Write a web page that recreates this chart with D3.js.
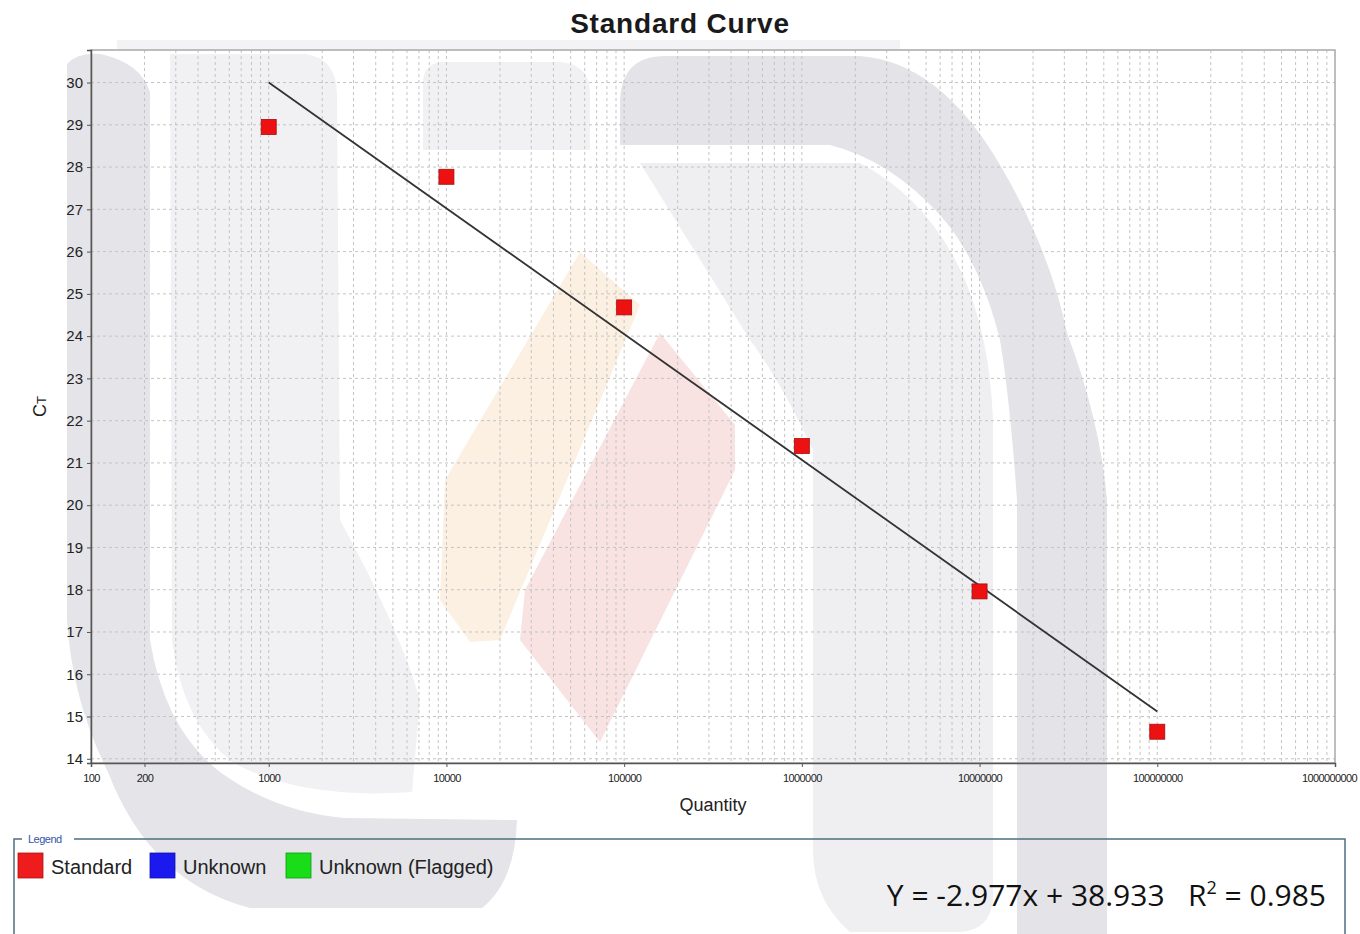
<!DOCTYPE html>
<html>
<head>
<meta charset="utf-8">
<script src="https://cdn.jsdelivr.net/npm/d3@7"></script>
<style>
  body { margin: 0; background: #fff; }
  svg { display: block; }
</style>
</head>
<body>
<script>
// standard curve data
const quantities = [1000, 10000, 100000, 1000000, 10000000, 100000000];
const ctValues = [28.95, 27.77, 24.68, 21.40, 17.96, 14.64];
const slope = -2.977;
const intercept = 38.933;
const rSquared = 0.985;

const xTickValues = [100, 200, 1000, 10000, 100000, 1000000, 10000000, 100000000, 1000000000];
const yTickValues = d3.range(14, 31);

const legendLabels = ['Standard', 'Unknown', 'Unknown (Flagged)'];
const legendColors = ['#ee1c1c', '#1a1aee', '#18dd18'];

const width = 1360, height = 934;
const plot = { left: 91, right: 1335, top: 50, bottom: 763 };

const svg = d3.select('body').append('svg')
  .attr('width', width)
  .attr('height', height);

// faint logo watermark behind everything
const wm = svg.append('g').attr('class', 'watermark');
const wmShapes = [
  // left dark band, curling right at the bottom
  { d: 'M67,64 Q78,52 100,54 Q140,62 150,92 L150,640 Q165,730 220,772 Q275,812 345,818 L517,820 Q515,882 482,908 L250,908 Q150,882 108,772 Q72,700 67,620 Z', fill: '#e4e4e9' },
  // left inner light band
  { d: 'M170,54 L305,54 Q337,58 337,95 L340,520 Q400,630 420,700 L412,792 Q300,800 232,762 Q182,722 172,640 Z', fill: '#f1f1f4' },
  // small light block top middle
  { d: 'M423,80 Q425,62 445,62 L560,62 Q588,64 590,90 L590,150 L423,150 Z', fill: '#f1f1f4' },
  // light strip above the frame
  { d: 'M117,40 L900,40 L900,49 L117,49 Z', fill: '#f3f3f5' },
  // right outer arc
  { d: 'M620,100 Q622,56 665,56 L860,56 Q940,62 1000,165 Q1050,250 1067,333 Q1100,420 1107,500 L1107,934 L1017,934 L1017,500 Q1010,400 1000,340 Q980,260 940,215 Q890,160 830,145 L620,145 Z', fill: '#e3e3e8' },
  // right inner light arc
  { d: 'M640,163 L860,163 Q930,200 965,280 Q990,340 993,420 L993,900 Q990,930 960,932 L850,932 Q813,900 813,850 L813,450 Q780,380 750,340 Z', fill: '#efeff2' },
  // orange stroke
  { d: 'M580,252 L640,305 L500,640 L470,642 L440,600 L445,480 Z', fill: '#fcf0e2' },
  // red stroke
  { d: 'M660,333 L735,425 L735,470 L600,742 L520,640 L525,590 Z', fill: '#f8e2e2' }
];
wm.selectAll('path')
  .data(wmShapes)
  .enter()
  .append('path')
  .attr('d', d => d.d)
  .attr('fill', d => d.fill);

const x = d3.scaleLog().domain([100, 1000000000]).range([plot.left, plot.right]);
const y = d3.scaleLinear().domain([13.9, 30.77]).range([plot.bottom, plot.top]);

// grid
const minorTicks = [];
for (let e = 2; e < 9; e++) {
  for (let m = 1; m < 10; m++) minorTicks.push(m * Math.pow(10, e));
}
const grid = svg.append('g').attr('class', 'grid');
grid.selectAll('.vgrid')
  .data(minorTicks.filter(v => v > 100))
  .enter()
  .append('line')
  .attr('x1', d => x(d)).attr('x2', d => x(d))
  .attr('y1', plot.top).attr('y2', plot.bottom)
  .attr('stroke', '#c4c4c4')
  .attr('stroke-width', 1)
  .attr('stroke-dasharray', '3,3');
grid.selectAll('.hgrid')
  .data(yTickValues)
  .enter()
  .append('line')
  .attr('x1', plot.left).attr('x2', plot.right)
  .attr('y1', d => y(d)).attr('y2', d => y(d))
  .attr('stroke', '#c4c4c4')
  .attr('stroke-width', 1)
  .attr('stroke-dasharray', '3,3');

// frame
svg.append('rect')
  .attr('x', plot.left).attr('y', plot.top)
  .attr('width', plot.right - plot.left).attr('height', plot.bottom - plot.top)
  .attr('fill', 'none')
  .attr('stroke', '#a8a8a8')
  .attr('stroke-width', 1.5);

// axes
const xAxis = d3.axisBottom(x)
  .tickValues(xTickValues)
  .tickFormat(d3.format('d'))
  .tickSize(4);
const xAxisG = svg.append('g')
  .attr('transform', 'translate(0,' + plot.bottom + ')')
  .call(xAxis);
xAxisG.select('.domain').attr('stroke', '#555').attr('stroke-width', 1.5);
xAxisG.selectAll('.tick line').attr('stroke', '#555');
xAxisG.selectAll('.tick text')
  .attr('fill', '#222')
  .attr('dy', '1.1em')
  .attr('dx', (d, i) => i === xTickValues.length - 1 ? -6 : 0)
  .style('font-family', 'Liberation Sans, Arial, sans-serif')
  .style('font-size', '11px')
  .style('letter-spacing', '-0.6px');

const yAxis = d3.axisLeft(y)
  .tickValues(yTickValues)
  .tickFormat(d3.format('d'))
  .tickSize(4);
const yAxisG = svg.append('g')
  .attr('transform', 'translate(' + plot.left + ',0)')
  .call(yAxis);
yAxisG.select('.domain').attr('stroke', '#555').attr('stroke-width', 1.5);
yAxisG.selectAll('.tick line').attr('stroke', '#555');
yAxisG.selectAll('.tick text')
  .attr('fill', '#222')
  .attr('x', -8)
  .style('font-family', 'Liberation Sans, Arial, sans-serif')
  .style('font-size', '15px');

// fit line from slope / intercept
const fitLine = d3.line()
  .x(d => x(d))
  .y(d => y(slope * Math.log10(d) + intercept));
svg.append('path')
  .datum([quantities[0], quantities[quantities.length - 1]])
  .attr('d', fitLine)
  .attr('fill', 'none')
  .attr('stroke', '#333')
  .attr('stroke-width', 1.8);

// standard points
const pts = quantities.map((q, i) => ({ q: q, ct: ctValues[i] }));
svg.selectAll('.std')
  .data(pts)
  .enter()
  .append('rect')
  .attr('class', 'std')
  .attr('x', d => x(d.q) - 7.5)
  .attr('y', d => y(d.ct) - 7.5)
  .attr('width', 15).attr('height', 15)
  .attr('fill', '#ee1111')
  .attr('stroke', '#a01010')
  .attr('stroke-width', 0.8);

// titles
svg.append('text')
  .attr('x', 680).attr('y', 33)
  .attr('text-anchor', 'middle')
  .style('font-family', 'Liberation Sans, Arial, sans-serif')
  .style('font-weight', 'bold')
  .style('font-size', '28px')
  .style('letter-spacing', '0.8px')
  .attr('fill', '#1a1a1a')
  .text('Standard Curve');

svg.append('text')
  .attr('x', (plot.left + plot.right) / 2).attr('y', 811)
  .attr('text-anchor', 'middle')
  .style('font-family', 'Liberation Sans, Arial, sans-serif')
  .style('font-size', '18px')
  .attr('fill', '#222')
  .text('Quantity');

const yLab = svg.append('text')
  .attr('transform', 'translate(46,' + (plot.top + plot.bottom) / 2 + ') rotate(-90)')
  .attr('text-anchor', 'middle')
  .style('font-family', 'Liberation Sans, Arial, sans-serif')
  .style('font-size', '18px')
  .attr('fill', '#222');
yLab.append('tspan').text('C');
yLab.append('tspan').style('font-size', '13px').text('T');

// legend panel
const lg = svg.append('g').attr('class', 'legend');
lg.append('path')
  .attr('d', 'M14,934 L14,839 L22,839 M74,839 L1345,839 L1345,934')
  .attr('fill', 'none')
  .attr('stroke', '#4f6f80')
  .attr('stroke-width', 1.5);
lg.append('text')
  .attr('x', 28).attr('y', 843)
  .style('font-family', 'Liberation Sans, Arial, sans-serif')
  .style('font-size', '11px')
  .style('letter-spacing', '-0.5px')
  .attr('fill', '#3355aa')
  .text('Legend');

const legendX = [18, 150, 286];
const items = lg.selectAll('.item')
  .data(legendLabels)
  .enter()
  .append('g')
  .attr('class', 'item')
  .attr('transform', (d, i) => 'translate(' + legendX[i] + ',853)');
items.append('rect')
  .attr('width', 25).attr('height', 25)
  .attr('fill', (d, i) => legendColors[i])
  .attr('stroke', (d, i) => d3.color(legendColors[i]).darker(1))
  .attr('stroke-width', 0.8);
items.append('text')
  .attr('x', 33).attr('y', 21)
  .style('font-family', 'Liberation Sans, Arial, sans-serif')
  .style('font-size', '20px')
  .attr('fill', '#222')
  .text(d => d);

// regression equation
const eq = svg.append('text')
  .attr('x', 1326).attr('y', 906)
  .attr('text-anchor', 'end')
  .style('font-family', 'Open Sans, sans-serif')
  .style('font-size', '30px')
  .attr('fill', '#111');
eq.append('tspan').text('Y = ' + slope + 'x + ' + intercept + '\u00a0\u00a0\u00a0R');
eq.append('tspan').attr('dy', -12).style('font-size', '18px').text('2');
eq.append('tspan').attr('dy', 12).text(' = ' + rSquared);
</script>
</body>
</html>
